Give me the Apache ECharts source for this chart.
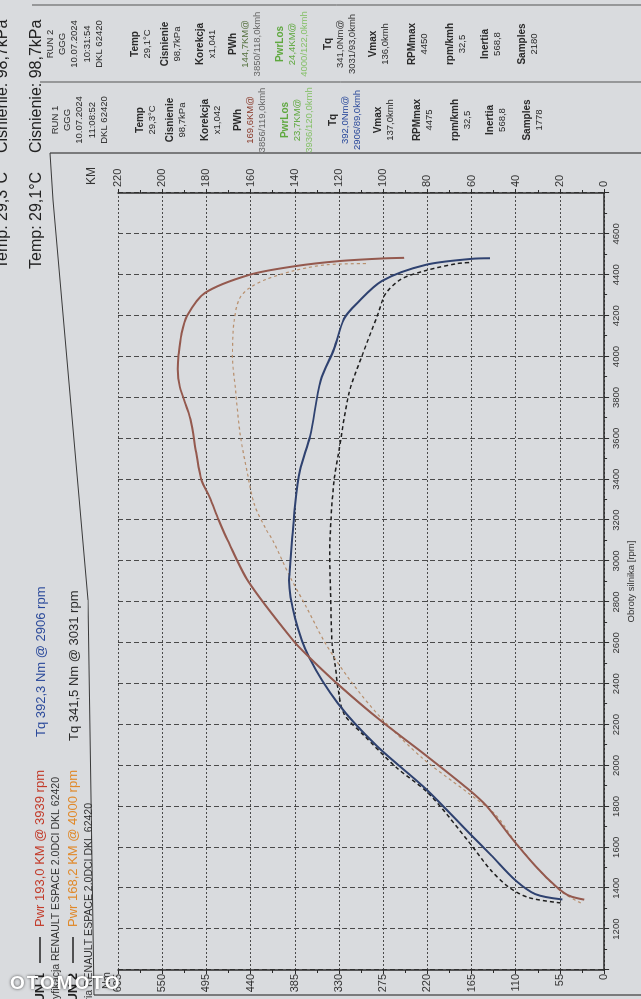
<!DOCTYPE html>
<html>
<head>
<meta charset="utf-8">
<script src="https://cdn.jsdelivr.net/npm/echarts@6/dist/echarts.min.js"></script>
<style>
html,body{margin:0;padding:0;width:641px;height:999px;overflow:hidden;background:#d9dbde;}
#wrap{position:absolute;left:0;top:0;width:999px;height:641px;transform-origin:0 0;transform:translate(0,999px) rotate(-90deg);}
#wm{position:absolute;left:10px;top:972px;font:bold 19px 'Liberation Sans',Arial,sans-serif;color:#fff;letter-spacing:2px;text-shadow:0 0 3px rgba(0,0,0,.7);}
</style>
</head>
<body>
<div id="wrap"></div>
<div id="wm">OTOMOTO</div>
<script>
// ---- axis ticks ----
const rpmTicks = [1000,1200,1400,1600,1800,2000,2200,2400,2600,2800,3000,3200,3400,3600,3800,4000,4200,4400,4600,4800];
const nmTicks = [0,55,110,165,220,275,330,385,440,495,550,605];
const kmTicks = [0,20,40,60,80,100,120,140,160,180,200,220];

// ---- RUN 1 power (KM) ----
const pwr1Rpm = [1344,1364,1405,1508,1646,1800,1882,2063,2221,2395,2528,2611,2900,3102,3200,3312,3395,3530,3693,3851,3939,4009,4110,4200,4311,4400,4442,4467,4480,4483];
const pwr1Km  = [9,16,21.4,31,41.9,53,61.2,82.2,101.3,120.2,133.3,140.7,161,170.4,174.4,178.5,182.2,184.6,187.2,192.0,193.0,192.6,191.3,188.7,180.7,160.5,140,120,100,90.5];

// ---- RUN 2 power (KM) ----
const pwr2Rpm = [1328,1380,1473,1627,1760,1863,2035,2237,2409,2595,2770,2920,3102,3151,3277,3433,3619,3846,4000,4170,4282,4334,4378,4421,4449,4455];
const pwr2Km  = [10.6,19,28.1,40.2,49.2,61.2,82.1,101.3,114.4,126,134.5,142,150,152.8,158.3,161.5,164.7,166.9,168.2,167.5,165.1,160.7,152.9,140,125.8,106.7];

// ---- RUN 1 torque (Nm) ----
const tq1Rpm = [1345,1371,1439,1559,1662,1886,2096,2304,2527,2717,2906,2938,3102,3233,3444,3611,3884,4037,4185,4259,4370,4449,4478,4481];
const tq1Nm  = [52,85.4,110.4,140,166,221.9,283,331.3,366.9,384.3,392.3,391.5,388.3,385.6,378.6,365.9,352.6,336.1,323.7,307.9,276.3,221.8,165,142];

// ---- RUN 2 torque (Nm) ----
const tq2Rpm = [1328,1354,1405,1491,1627,1861,1991,2149,2251,2372,2490,2595,2855,3031,3200,3395,3529,3822,4008,4216,4304,4378,4421,4455,4460];
const tq2Nm  = [54,93.8,118.7,141.6,168.5,217.8,258.7,299.3,323.5,331,334.7,338.5,340.5,341.5,340,336,330.4,317.4,300.9,280.7,272.6,252.9,221.7,182.8,167.3];

// ---- texts ----
const legendRun1 = ['RUN 1','Pwr 193,0 KM @ 3939 rpm','Tq 392,3 Nm @ 2906 rpm','Modyfikacja RENAULT ESPACE 2.0DCI DKL 62420'];
const legendRun2 = ['RUN 2','Pwr 168,2 KM @ 4000 rpm','Tq 341,5 Nm @ 3031 rpm','Seria RENAULT ESPACE 2.0DCI DKL 62420'];
const headerLines = [['Temp: 29,3°C','Cisnienie: 98,7kPa'],['Temp: 29,1°C','Cisnienie: 98,7kPa']];
const run1Info = [['RUN 1','GGG','10.07.2024','11:08:52','DKL 62420'],['Temp','29,3°C'],['Cisnienie','98,7kPa'],['Korekcja','x1,042'],['PWh','169,6KM@','3856/119,0kmh'],['PwrLos','23,7KM@','3936/120,0kmh'],['Tq','392,0Nm@','2906/89,0kmh'],['Vmax','137,0kmh'],['RPMmax','4475'],['rpm/kmh','32,5'],['Inertia','568,8'],['Samples','1778']];
const run2Info = [['RUN 2','GGG','10.07.2024','10:31:54','DKL 62420'],['Temp','29,1°C'],['Cisnienie','98,7kPa'],['Korekcja','x1,041'],['PWh','144,7KM@','3850/118,0kmh'],['PwrLos','24,4KM@','4000/122,0kmh'],['Tq','341,0Nm@','3031/93,0kmh'],['Vmax','136,0kmh'],['RPMmax','4450'],['rpm/kmh','32,5'],['Inertia','568,8'],['Samples','2180']];

const zip = (a,b) => a.map((v,i)=>[v,b[i]]);
const FF = "'Liberation Sans Narrow','Liberation Sans',Arial,sans-serif";
const FS = "'Liberation Sans',Arial,sans-serif";

function txt(x,y,text,font,fill,align,valign){
  return {type:'text', x:x, y:y, z:100, silent:true,
    style:{text:text, font:font, fill:fill, align:align||'left', textAlign:align||'left', verticalAlign:valign||'middle', textVerticalAlign:valign||'middle'}};
}
function line(points,w,color){
  return {type:'polyline', z:100, silent:true, shape:{points:points}, style:{stroke:color||'#333', lineWidth:w||1, fill:null}};
}

const graphics = [];
// frame & table lines
graphics.push(line([[846,50],[799,53],[399,88],[4,94]],1.2,'#3a3a3a'));
graphics.push(line([[846,50],[846,641]],1.2,'#3a3a3a'));
graphics.push(line([[4,94],[4,641]],1.2,'#3a3a3a'));
graphics.push(line([[917,40],[917,641]],1,'#555'));
graphics.push(line([[994,32],[994,641]],1,'#555'));

// header
headerLines.forEach((h,i)=>{
  const y = i===0 ? 3 : 37;
  graphics.push(txt(730,y,h[0],'16px '+FS,'#222','left'));
  graphics.push(txt(846,y,h[1],'16px '+FS,'#222','left'));
});

// legend
[[legendRun1,40,'#c23b2a','#2b4a9b'],[legendRun2,73,'#e0892a','#2a2a2a']].forEach(([L,y,pc,tc],i)=>{
  graphics.push(txt(26,y,L[0],'bold 13px '+FS,'#222','right'));
  graphics.push(line([[36,y],[62,y]],1.5,'#222'));
  graphics.push(txt(72,y,L[1],'13px '+FF,pc,'left'));
  graphics.push(txt(i===0?262:258,y+1,L[2],'13px '+FF,tc,'left'));
  graphics.push(txt(i===0?222:196,y+16,L[3],'10.5px '+FF,'#333','right'));
});

// info table
const groupY = [55,140,170,205,238,285,333,378,417,455,490,527];
function table(info,cx,dy,run){
  info.forEach((g,gi)=>{
    g.forEach((t,li)=>{
      let fill = '#2a2a2a', font = '9.5px '+FS;
      if (gi>0 && li===0) font = 'bold 10px '+FS;
      if (gi===4 && li===1) fill = run===1 ? '#8a3b2b' : '#55703f';
      if (gi===4 && li===2) fill = '#666';
      if (gi===5) fill = li===2 ? '#86c06a' : '#5fa83f';
      if (gi===6 && li>0) fill = run===1 ? '#2b4a9b' : '#333';
      graphics.push(txt(cx, groupY[gi]+dy+li*12.3, t, font, fill, 'center'));
    });
  });
}
table(run1Info,879,0,1);
table(run2Info,955,-5,2);

const axisLineStyle = {color:'#2a2a2a', width:1.5};
const chart = echarts.init(document.getElementById('wrap'), null, {renderer:'canvas'});
chart.setOption({
  backgroundColor:'#d9dbde',
  animation:false,
  grid:{left:29, top:118, width:777, height:501},
  xAxis:{
    type:'value', min:rpmTicks[0], max:rpmTicks[rpmTicks.length-1], interval:rpmTicks[1]-rpmTicks[0],
    name:'Obroty silnika [rpm]', nameLocation:'middle', nameGap:21,
    nameTextStyle:{fontSize:9.5, color:'#333', fontFamily:FF},
    axisLine:{lineStyle:axisLineStyle},
    axisTick:{show:true, length:5, lineStyle:{color:'#2a2a2a'}},
    minorTick:{show:true, splitNumber:2, length:3, lineStyle:{color:'#2a2a2a'}},
    splitLine:{show:true, lineStyle:{color:'#4a4a4a', width:1, type:[5,3]}},
    axisLabel:{fontSize:9.5, color:'#333', margin:7, fontFamily:FF,
      formatter:v => (v===rpmTicks[0]||v===rpmTicks[rpmTicks.length-1]) ? '' : String(v)}
  },
  yAxis:[
    {type:'value', position:'left', min:nmTicks[0], max:nmTicks[nmTicks.length-1], interval:nmTicks[1]-nmTicks[0],
     name:'Nm', nameLocation:'end', nameGap:4,
     nameTextStyle:{fontSize:11, color:'#333', fontFamily:FF, align:'right', padding:[0,2,0,0]},
     axisLine:{show:true, lineStyle:axisLineStyle},
     axisTick:{show:true, length:4, lineStyle:{color:'#2a2a2a'}},
     minorTick:{show:true, splitNumber:2, length:3, lineStyle:{color:'#2a2a2a'}},
     splitLine:{show:true, lineStyle:{color:'#4a4a4a', width:1, type:[2,2]}},
     axisLabel:{fontSize:11, color:'#333', margin:4, fontFamily:FF}},
    {type:'value', position:'right', min:kmTicks[0], max:kmTicks[kmTicks.length-1], interval:kmTicks[1]-kmTicks[0],
     name:'KM', nameLocation:'end', nameGap:20,
     nameTextStyle:{fontSize:12, color:'#333', fontFamily:FF, align:'left', padding:[0,0,0,8]},
     axisLine:{show:true, lineStyle:axisLineStyle},
     axisTick:{show:true, length:4, lineStyle:{color:'#2a2a2a'}},
     minorTick:{show:true, splitNumber:2, length:3, lineStyle:{color:'#2a2a2a'}},
     splitLine:{show:false},
     axisLabel:{fontSize:11, color:'#333', margin:6, fontFamily:FF}}
  ],
  series:[
    {name:'Tq RUN 2', type:'line', yAxisIndex:0, data:zip(tq2Rpm,tq2Nm), smooth:0.3, symbol:'none',
     lineStyle:{color:'#1e1e1e', width:1.5, type:[4,3]}},
    {name:'Pwr RUN 2', type:'line', yAxisIndex:1, data:zip(pwr2Rpm,pwr2Km), smooth:0.3, symbol:'none',
     lineStyle:{color:'#b8906e', width:1.2, type:[3,3]}},
    {name:'Tq RUN 1', type:'line', yAxisIndex:0, data:zip(tq1Rpm,tq1Nm), smooth:0.3, symbol:'none',
     lineStyle:{color:'#2f4270', width:2}},
    {name:'Pwr RUN 1', type:'line', yAxisIndex:1, data:zip(pwr1Rpm,pwr1Km), smooth:0.3, symbol:'none',
     lineStyle:{color:'#94594e', width:2}}
  ],
  graphic:graphics
});
</script>
</body>
</html>
